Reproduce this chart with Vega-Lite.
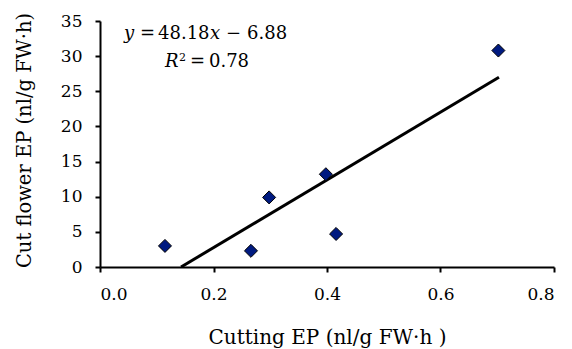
{
  "$schema": "https://vega.github.io/schema/vega-lite/v6.json",
  "width": 454,
  "height": 246,
  "autosize": "none",
  "padding": {"left": 100, "top": 21, "right": 18, "bottom": 82},
  "background": "white",
  "config": {
    "view": {"stroke": null},
    "font": "DejaVu Serif",
    "text": {"font": "DejaVu Serif"}
  },
  "datasets": {
    "points": [
      {"cutting": 0.1145, "flower": 3.0},
      {"cutting": 0.266, "flower": 2.3},
      {"cutting": 0.298, "flower": 9.9},
      {"cutting": 0.398, "flower": 13.2},
      {"cutting": 0.416, "flower": 4.7},
      {"cutting": 0.702, "flower": 30.8}
    ],
    "fit": [
      {"cutting": 0.1428, "flower": 0},
      {"cutting": 0.703, "flower": 26.99}
    ],
    "eq": [
      {"cutting": 0.0423, "flower": 32.4}
    ],
    "r2": [
      {"cutting": 0.1145, "flower": 28.4}
    ]
  },
  "encoding": {
    "x": {
      "field": "cutting", "type": "quantitative",
      "scale": {"domain": [0, 0.8], "nice": false},
      "axis": {
        "values": [0, 0.2, 0.4, 0.6, 0.8], "format": ".1f",
        "grid": false, "domainColor": "black", "domainWidth": 2, "tickColor": "black", "tickWidth": 2, "tickSize": 5,
        "labelFont": "DejaVu Serif", "labelFontSize": 17, "labelColor": "black", "labelPadding": 14,
        "title": "Cutting EP (nl/g FW·h )", "titleFont": "DejaVu Serif", "titleFontSize": 20, "titleFontWeight": "normal", "titleColor": "black", "titlePadding": 25
      }
    },
    "y": {
      "field": "flower", "type": "quantitative",
      "scale": {"domain": [0, 35], "nice": false},
      "axis": {
        "values": [0, 5, 10, 15, 20, 25, 30, 35],
        "grid": false, "domainColor": "black", "domainWidth": 2, "tickColor": "black", "tickWidth": 2, "tickSize": 5,
        "labelFont": "DejaVu Serif", "labelFontSize": 17, "labelColor": "black", "labelPadding": 13,
        "title": "Cut flower EP (nl/g  FW·h)", "titleFont": "DejaVu Serif", "titleFontSize": 19.5, "titleFontWeight": "normal", "titleColor": "black", "titlePadding": 26, "titleY": 119
      }
    }
  },
  "layer": [
    {
      "data": {"name": "fit"},
      "mark": {"type": "line", "color": "black", "strokeWidth": 3, "clip": true}
    },
    {
      "data": {"name": "points"},
      "mark": {"type": "point", "shape": "diamond", "filled": true, "fill": "#001a80", "stroke": "black", "strokeWidth": 1, "size": 170, "opacity": 1}
    },
    {
      "data": {"name": "eq"},
      "layer": [
        {"mark": {"type": "text", "text": "y", "fontStyle": "italic", "fontSize": 18, "align": "left", "baseline": "alphabetic", "color": "black"}},
        {"mark": {"type": "text", "text": "=", "fontSize": 18, "align": "left", "baseline": "alphabetic", "dx": 16, "color": "black"}},
        {"mark": {"type": "text", "text": "48.18", "fontSize": 18, "align": "left", "baseline": "alphabetic", "dx": 34, "color": "black"}},
        {"mark": {"type": "text", "text": "x", "fontStyle": "italic", "fontSize": 18, "align": "left", "baseline": "alphabetic", "dx": 86, "color": "black"}},
        {"mark": {"type": "text", "text": "−", "fontSize": 18, "align": "left", "baseline": "alphabetic", "dx": 102, "color": "black"}},
        {"mark": {"type": "text", "text": "6.88", "fontSize": 18, "align": "left", "baseline": "alphabetic", "dx": 123, "color": "black"}}
      ]
    },
    {
      "data": {"name": "r2"},
      "layer": [
        {"mark": {"type": "text", "text": "R", "fontStyle": "italic", "fontSize": 18, "align": "left", "baseline": "alphabetic", "color": "black"}},
        {"mark": {"type": "text", "text": "2", "fontSize": 11, "align": "left", "baseline": "alphabetic", "dx": 14, "dy": -6, "color": "black"}},
        {"mark": {"type": "text", "text": "=", "fontSize": 18, "align": "left", "baseline": "alphabetic", "dx": 25, "color": "black"}},
        {"mark": {"type": "text", "text": "0.78", "fontSize": 18, "align": "left", "baseline": "alphabetic", "dx": 44, "color": "black"}}
      ]
    }
  ]
}
